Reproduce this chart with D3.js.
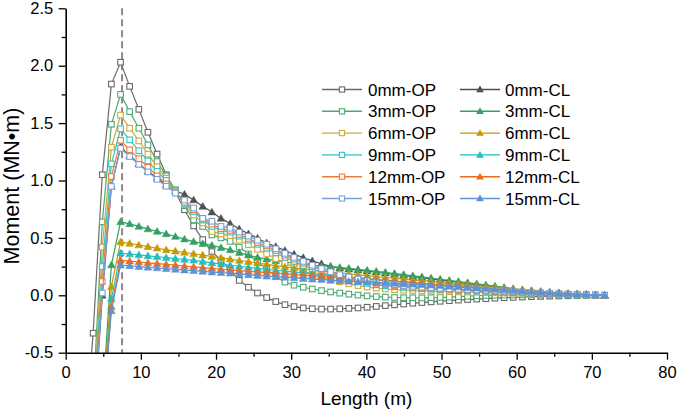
<!DOCTYPE html>
<html><head><meta charset="utf-8">
<script src="https://cdn.jsdelivr.net/npm/d3@7/dist/d3.min.js"></script>
<style>
html,body{margin:0;padding:0;background:#fff;}
text{font-family:"Liberation Sans",Arial,sans-serif;fill:#000;}
</style></head>
<body><svg id="c" width="685" height="415"></svg>
<script>
// ---- data ----
const xs = [2.43,3.65,4.87,6.08,7.30,8.51,9.73,10.94,12.16,13.37,14.59,15.80,17.02,18.23,19.45,20.66,21.88,23.09,24.31,25.52,26.74,27.95,29.17,30.38,31.60,32.81,34.03,35.24,36.46,37.67,38.89,40.10,41.32,42.53,43.75,44.96,46.18,47.39,48.61,49.82,51.04,52.25,53.47,54.68,55.90,57.11,58.33,59.54,60.76,61.97,63.19,64.40,65.62,66.83,68.05,69.26,70.48,71.69];

const op0 = [-1.37,-0.33,1.05,1.84,2.03,1.82,1.62,1.42,1.23,1.05,
0.90,0.745,0.605,0.485,0.38,0.305,0.22,0.13,0.07,0.02,
-0.02,-0.055,-0.082,-0.098,-0.11,-0.117,-0.12,-0.12,-0.118,-0.114,
-0.11,-0.104,-0.097,-0.09,-0.083,-0.076,-0.069,-0.063,-0.057,-0.052,
-0.047,-0.042,-0.037,-0.033,-0.029,-0.025,-0.021,-0.018,-0.015,-0.012,
-0.01,-0.008,-0.006,-0.004,-0.003,-0.002,-0.001,0];
const cl0 = [-2.2,-1.2,0.0,0.95,1.29,1.215,1.145,1.08,1.02,0.96,
0.91,0.88,0.83,0.775,0.725,0.67,0.625,0.578,0.535,0.497,
0.456,0.424,0.39,0.358,0.328,0.3,0.275,0.252,0.236,0.228,
0.219,0.21,0.201,0.192,0.183,0.173,0.163,0.153,0.143,0.133,
0.123,0.113,0.103,0.093,0.083,0.073,0.063,0.053,0.044,0.036,
0.029,0.023,0.017,0.012,0.008,0.004,0.002,0.0];
const op3 = [-2.2,-0.9,0.64,1.49,1.75,1.60,1.455,1.31,1.165,1.04,
0.92,0.78,0.657,0.60,0.526,0.50,0.47,0.42,0.36,0.29,
0.23,0.165,0.115,0.088,0.07,0.055,0.041,0.029,0.019,0.01,
0.002,-0.005,-0.011,-0.016,-0.019,-0.021,-0.022,-0.022,-0.021,-0.019,
-0.016,-0.012,-0.008,-0.004,-0.001,0.001,0.002,0.003,0.003,0.003,
0.003,0.003,0.002,0.002,0.001,0.001,0.0,0.0];
const cl3 = [-2.0,-1.5,-0.95,0.265,0.64,0.622,0.60,0.578,0.556,0.535,
0.512,0.49,0.468,0.45,0.435,0.415,0.395,0.372,0.35,0.33,
0.315,0.30,0.29,0.28,0.27,0.26,0.255,0.25,0.242,0.235,
0.226,0.218,0.209,0.2,0.19,0.18,0.17,0.16,0.15,0.14,
0.13,0.12,0.11,0.1,0.09,0.08,0.069,0.058,0.048,0.04,
0.033,0.026,0.02,0.014,0.01,0.006,0.003,0.0];
const op6 = [-2.3,-1.0,0.42,1.29,1.57,1.456,1.345,1.23,1.12,1.02,
0.915,0.79,0.70,0.63,0.556,0.535,0.52,0.48,0.44,0.40,
0.36,0.32,0.28,0.245,0.21,0.18,0.155,0.135,0.118,0.1,
0.085,0.072,0.062,0.055,0.049,0.045,0.041,0.038,0.036,0.034,
0.032,0.03,0.028,0.026,0.024,0.022,0.02,0.018,0.016,0.014,
0.012,0.01,0.008,0.006,0.004,0.003,0.001,0.0];
const cl6 = [-2.0,-1.6,-1.0,0.075,0.465,0.452,0.438,0.424,0.41,0.396,
0.385,0.373,0.362,0.35,0.338,0.326,0.315,0.303,0.292,0.281,
0.27,0.258,0.248,0.238,0.229,0.22,0.211,0.203,0.195,0.187,
0.179,0.171,0.163,0.155,0.147,0.14,0.132,0.125,0.118,0.111,
0.104,0.097,0.09,0.083,0.076,0.069,0.062,0.055,0.048,0.041,
0.034,0.027,0.021,0.015,0.01,0.006,0.003,0.0];
const op9 = [-2.4,-1.05,0.25,1.145,1.45,1.354,1.26,1.17,1.08,1.0,
0.91,0.80,0.73,0.655,0.60,0.565,0.55,0.515,0.48,0.445,
0.41,0.37,0.33,0.295,0.26,0.23,0.2,0.175,0.152,0.133,
0.117,0.103,0.092,0.083,0.075,0.068,0.062,0.057,0.053,0.049,
0.045,0.042,0.039,0.036,0.033,0.03,0.027,0.024,0.021,0.018,
0.015,0.012,0.01,0.007,0.005,0.003,0.001,0.0];
const cl9 = [-2.0,-1.6,-1.05,-0.03,0.368,0.36,0.352,0.344,0.336,0.328,
0.32,0.312,0.305,0.294,0.283,0.272,0.262,0.253,0.244,0.235,
0.226,0.218,0.21,0.202,0.195,0.188,0.18,0.173,0.166,0.159,
0.152,0.145,0.138,0.131,0.124,0.117,0.11,0.103,0.097,0.091,
0.085,0.079,0.073,0.067,0.061,0.055,0.049,0.043,0.037,0.032,
0.027,0.022,0.017,0.013,0.009,0.005,0.002,0.0];
const op12 = [-2.5,-1.1,0.12,1.035,1.35,1.267,1.19,1.115,1.04,0.97,
0.90,0.81,0.745,0.665,0.62,0.58,0.565,0.53,0.495,0.46,
0.43,0.39,0.35,0.315,0.28,0.25,0.22,0.195,0.17,0.15,
0.132,0.117,0.104,0.094,0.085,0.077,0.07,0.064,0.059,0.055,
0.051,0.047,0.044,0.041,0.038,0.034,0.031,0.027,0.024,0.021,
0.018,0.015,0.012,0.009,0.006,0.004,0.002,0.0];
const cl12 = [-2.0,-1.6,-1.1,-0.10,0.305,0.298,0.29,0.283,0.276,0.269,
0.262,0.255,0.248,0.241,0.234,0.227,0.221,0.215,0.209,0.204,
0.198,0.193,0.187,0.181,0.176,0.171,0.166,0.16,0.155,0.15,
0.144,0.138,0.133,0.127,0.121,0.115,0.11,0.104,0.098,0.092,
0.086,0.08,0.074,0.068,0.062,0.056,0.05,0.044,0.038,0.033,
0.028,0.023,0.018,0.014,0.01,0.006,0.003,0.0];
const op15 = [-2.6,-1.15,0.02,0.948,1.28,1.209,1.14,1.075,1.01,0.95,
0.89,0.83,0.76,0.67,0.645,0.60,0.585,0.55,0.515,0.48,
0.445,0.405,0.365,0.33,0.295,0.262,0.232,0.205,0.18,0.16,
0.142,0.126,0.113,0.102,0.093,0.085,0.078,0.071,0.066,0.061,
0.057,0.053,0.05,0.047,0.044,0.04,0.036,0.032,0.028,0.024,
0.02,0.017,0.013,0.01,0.007,0.004,0.002,0.0];
const cl15 = [-2.0,-1.6,-1.1,-0.135,0.262,0.256,0.25,0.244,0.238,0.232,
0.226,0.22,0.214,0.208,0.202,0.197,0.192,0.186,0.178,0.172,
0.166,0.161,0.156,0.151,0.146,0.141,0.136,0.13,0.126,0.122,
0.118,0.114,0.111,0.108,0.104,0.1,0.096,0.092,0.088,0.083,
0.078,0.072,0.067,0.062,0.057,0.052,0.046,0.041,0.036,0.031,
0.026,0.022,0.018,0.014,0.01,0.007,0.004,0.002];

const gaps = ["0mm","3mm","6mm","9mm","12mm","15mm"];
const opSeries = [op0,op3,op6,op9,op12,op15];
const clSeries = [cl0,cl3,cl6,cl9,cl12,cl15];
const opColors = ["#6a6a6a","#4bab72","#cfa93a","#33c4c4","#f07a35","#74a2d8"];
const clColors = ["#505050","#35a063","#c79a00","#1cc0c0","#f06a1c","#5e92d2"];
const xTicks = [0,10,20,30,40,50,60,70,80];
const yTicks = [-0.5,0.0,0.5,1.0,1.5,2.0,2.5];
const refX = 7.5;

// ---- chart ----
const svg = d3.select("#c");
const L=65.7, R=667, T=8.3, B=352.7;
const x = d3.scaleLinear().domain([0,80]).range([L,R]);
const y = d3.scaleLinear().domain([-0.5,2.5]).range([B,T]);

svg.append("defs").append("clipPath").attr("id","clip")
  .append("rect").attr("x",L).attr("y",T).attr("width",R-L).attr("height",B-T);

// dashed reference line
svg.append("line").attr("x1",x(refX)).attr("x2",x(refX)).attr("y1",T).attr("y2",B)
  .attr("stroke","#8a8a8a").attr("stroke-width",2).attr("stroke-dasharray","7,4");

const plot = svg.append("g").attr("clip-path","url(#clip)");
const line = d3.line().x((d,i)=>x(xs[i])).y(d=>y(d));
const tri = d3.symbol().type(d3.symbolTriangle).size(26);

function drawOP(g, data, col){
  g.append("path").attr("d",line(data)).attr("fill","none").attr("stroke",col).attr("stroke-width",1.2);
  g.selectAll(null).data(data).enter().append("rect")
    .attr("x",(d,i)=>x(xs[i])-2.8).attr("y",d=>y(d)-2.8).attr("width",5.6).attr("height",5.6)
    .attr("fill","#fff").attr("stroke",col).attr("stroke-width",1.1);
}
function drawCL(g, data, col){
  g.append("path").attr("d",line(data)).attr("fill","none").attr("stroke",col).attr("stroke-width",1.2);
  g.selectAll(null).data(data).enter().append("path")
    .attr("d",tri).attr("transform",(d,i)=>`translate(${x(xs[i])},${y(d)+0.6})`)
    .attr("fill",col).attr("stroke",col).attr("stroke-width",0.5);
}
for(let k=0;k<gaps.length;k++){
  drawOP(plot.append("g"), opSeries[k], opColors[k]);
  drawCL(plot.append("g"), clSeries[k], clColors[k]);
}

// axes
const xAxis = svg.append("g").attr("transform",`translate(0,${B})`)
  .call(d3.axisBottom(x).tickValues(xTicks).tickFormat(d3.format("d")).tickSize(7).tickSizeOuter(0));
svg.append("g").attr("transform",`translate(0,${B})`)
  .call(d3.axisBottom(x).tickValues(d3.range(5,80,10)).tickFormat("").tickSize(4).tickSizeOuter(0))
  .select(".domain").remove();
const yAxis = svg.append("g").attr("transform",`translate(${L},0)`)
  .call(d3.axisLeft(y).tickValues(yTicks).tickFormat(d=>d.toFixed(1)).tickSize(7).tickSizeOuter(0));
svg.append("g").attr("transform",`translate(${L},0)`)
  .call(d3.axisLeft(y).tickValues(yTicks.slice(0,-1).map(v=>v+0.25)).tickFormat("").tickSize(4).tickSizeOuter(0))
  .select(".domain").remove();
svg.selectAll(".domain").attr("stroke","#000").attr("stroke-width",1.6);
svg.selectAll(".tick line").attr("stroke","#000").attr("stroke-width",1.3);
xAxis.selectAll("text").attr("font-size",16.5).attr("dy","0.9em").attr("font-family","Liberation Sans, Arial, sans-serif");
yAxis.selectAll("text").attr("font-size",16.5).attr("dx","-0.15em").attr("font-family","Liberation Sans, Arial, sans-serif");

// titles
svg.append("text").attr("x",(L+R)/2).attr("y",405).attr("text-anchor","middle")
  .attr("font-size",19).text("Length (m)");
svg.append("text").attr("transform",`translate(19,186) rotate(-90)`).attr("text-anchor","middle")
  .attr("font-size",21.5).text("Moment (MN\u2022m)");

// legend
const lg = svg.append("g");
const rowY = d => 89.5 + d*21.8;
gaps.forEach((g,i)=>{
  const yy = rowY(i);
  lg.append("line").attr("x1",322).attr("x2",362).attr("y1",yy).attr("y2",yy).attr("stroke",opColors[i]).attr("stroke-width",1.4);
  lg.append("rect").attr("x",342-2.6).attr("y",yy-2.6).attr("width",5.2).attr("height",5.2).attr("fill","#fff").attr("stroke",opColors[i]).attr("stroke-width",1.1);
  lg.append("text").attr("x",368).attr("y",yy+6).attr("font-size",17).text(g+"-OP");
  lg.append("line").attr("x1",460).attr("x2",500).attr("y1",yy).attr("y2",yy).attr("stroke",clColors[i]).attr("stroke-width",1.4);
  lg.append("path").attr("d",tri).attr("transform",`translate(480,${yy+0.5})`).attr("fill",clColors[i]);
  lg.append("text").attr("x",505).attr("y",yy+6).attr("font-size",17).text(g+"-CL");
});
</script></body></html>
